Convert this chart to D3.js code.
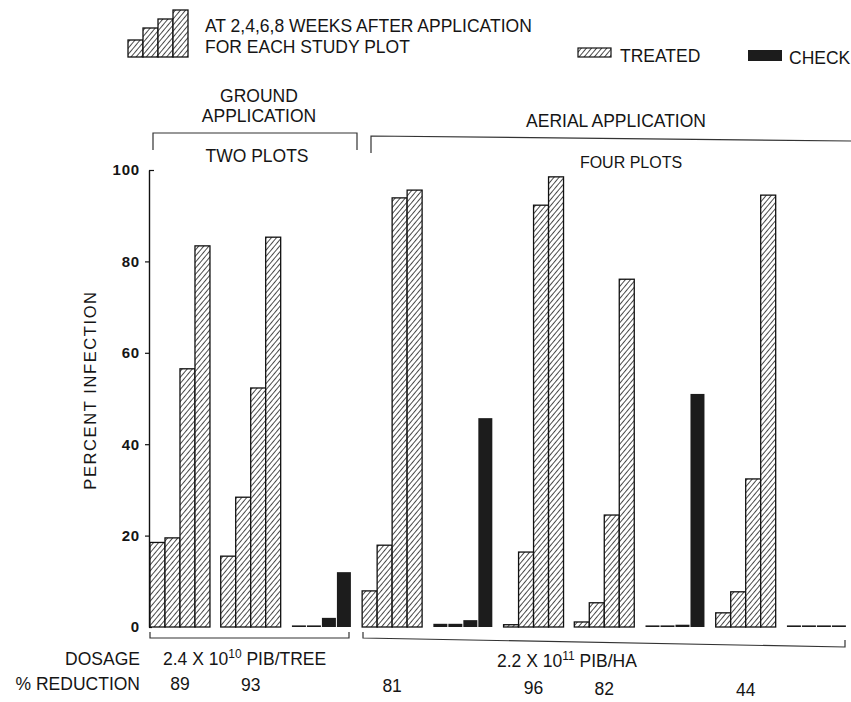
<!DOCTYPE html>
<html><head><meta charset="utf-8">
<script src="https://cdn.jsdelivr.net/npm/d3@7"></script>
<style>
body{margin:0;background:#fff;}
svg text{font-family:"Liberation Sans",Arial,sans-serif;fill:#151515;}
</style></head>
<body><svg id="c" width="851" height="702"></svg>
<script>
// ---- data ----
const groups = ["G-plot1","G-plot2","G-check","A-plot1","A-check1","A-plot2","A-plot3","A-check2","A-plot4","A-check3"];
const groupType = ["treated","treated","check","treated","check","treated","treated","check","treated","check"];
const weeks = ["2","4","6","8"];
const values = [
  [18.5, 19.5, 56.5, 83.4],
  [15.5, 28.4, 52.3, 85.3],
  [0, 0, 2.0, 12.0],
  [7.9, 17.9, 93.9, 95.6],
  [0.7, 0.7, 1.5, 45.7],
  [0.5, 16.4, 92.3, 98.5],
  [1.1, 5.3, 24.5, 76.1],
  [0, 0, 0.5, 51.0],
  [3.1, 7.7, 32.4, 94.5],
  [0, 0, 0, 0]
];
const yTicks = [0, 20, 40, 60, 80, 100];
const reductionGroups = ["G-plot1","G-plot2","A-plot1","A-plot2","A-plot3","A-plot4"];
const reductionValues = ["89","93","81","96","82","44"];
const legendSteps = [17, 29, 38, 47]; // legend staircase heights

// ---- drawing ----
const svg = d3.select("#c");
const defs = svg.append("defs");
const pat = defs.append("pattern").attr("id","hatch").attr("patternUnits","userSpaceOnUse")
  .attr("width",3.9).attr("height",3.9).attr("patternTransform","rotate(40)");
pat.append("rect").attr("width",3.9).attr("height",3.9).attr("fill","#fff");
pat.append("line").attr("x1",0).attr("y1",0).attr("x2",0).attr("y2",3.9)
  .attr("stroke","#111").attr("stroke-width",1.5);

const y = d3.scaleLinear().domain([0,100]).range([627,170]);
const x = d3.scaleBand().domain(groups).range([150,846.4]).paddingInner(0.152).paddingOuter(0);
const xi = d3.scaleBand().domain(weeks).range([0, x.bandwidth()]);

// y axis
const axis = d3.axisLeft(y).tickValues(yTicks).tickSize(4).tickSizeOuter(0).tickPadding(5);
const ag = svg.append("g").attr("transform","translate(149,0)").call(axis);
ag.select(".domain").attr("stroke","#111").attr("stroke-width",1.4);
ag.selectAll(".tick line").attr("stroke","#111").attr("stroke-width",1.2);
ag.selectAll(".tick").filter(d=>d===100).select("line").attr("x2",5);
ag.selectAll(".tick").filter(d=>d===0).select("line").attr("x2",3);
ag.selectAll(".tick text").attr("font-size",15).attr("font-weight","bold")
  .attr("font-family","Liberation Sans, Arial, sans-serif").attr("fill","#151515").attr("letter-spacing","0.8");

svg.append("text").attr("transform","translate(96,390) rotate(-90)").attr("text-anchor","middle")
  .attr("font-size",16.5).attr("letter-spacing","1.6").text("PERCENT INFECTION");

// bars
const gs = svg.append("g").selectAll("g").data(groups).join("g")
  .attr("transform", d => `translate(${x(d)},0)`);
gs.each(function(g, gi){
  const sel = d3.select(this);
  const t = groupType[gi];
  values[gi].forEach((v, wi) => {
    const top = y(v), h = Math.max(y(0)-top, 1.6);
    if (t === "treated") {
      sel.append("rect").attr("x", xi(weeks[wi])).attr("y", y(0)-h)
        .attr("width", xi.bandwidth()).attr("height", h)
        .attr("fill","url(#hatch)").attr("stroke","#111").attr("stroke-width",1.3);
    } else {
      sel.append("rect").attr("x", xi(weeks[wi])+0.5).attr("y", y(0)-h)
        .attr("width", xi.bandwidth()-1).attr("height", h).attr("fill","#1c1c1c");
    }
  });
});

// legend staircase
const lx = d3.scaleBand().domain(weeks).range([128,188]);
const ly = d3.scaleLinear().domain([0,47]).range([57,10]);
weeks.forEach((w,i)=>{
  svg.append("rect").attr("x",lx(w)).attr("y",ly(legendSteps[i])).attr("width",lx.bandwidth())
    .attr("height",57-ly(legendSteps[i])).attr("fill","url(#hatch)").attr("stroke","#111").attr("stroke-width",1.3);
});
const FS = 17.5;
svg.append("text").attr("x",205).attr("y",32).attr("font-size",FS).text("AT 2,4,6,8 WEEKS AFTER APPLICATION");
svg.append("text").attr("x",205).attr("y",53).attr("font-size",FS).text("FOR EACH STUDY PLOT");

// legend treated / check
svg.append("rect").attr("x",578).attr("y",48).attr("width",33).attr("height",9)
  .attr("fill","url(#hatch)").attr("stroke","#111").attr("stroke-width",1.2);
svg.append("text").attr("x",620).attr("y",62).attr("font-size",FS).text("TREATED");
svg.append("rect").attr("x",748).attr("y",50).attr("width",34).attr("height",11).attr("fill","#1c1c1c");
svg.append("text").attr("x",789).attr("y",64).attr("font-size",FS).text("CHECK");

// top brackets & labels
const line = d3.line();
function path(pts){ return svg.append("path").attr("d", line(pts)).attr("fill","none").attr("stroke","#333").attr("stroke-width",1.2); }
svg.append("text").attr("x",259).attr("y",102).attr("text-anchor","middle").attr("font-size",FS).text("GROUND");
svg.append("text").attr("x",259).attr("y",122).attr("text-anchor","middle").attr("font-size",FS).text("APPLICATION");
path([[153,150],[153,133],[357,133],[357,150]]);
svg.append("text").attr("x",257).attr("y",162).attr("text-anchor","middle").attr("font-size",FS).text("TWO PLOTS");
svg.append("text").attr("x",616).attr("y",127).attr("text-anchor","middle").attr("font-size",FS).text("AERIAL APPLICATION");
path([[371,153],[371,136],[851,141]]);
svg.append("text").attr("x",631).attr("y",168).attr("text-anchor","middle").attr("font-size",16).text("FOUR PLOTS");

// bottom brackets
path([[150,632],[150,638],[349,638],[349,632]]);
path([[363,632],[363,638],[845,647],[845,640]]);

// dosage
svg.append("text").attr("x",140).attr("y",665).attr("text-anchor","end").attr("font-size",FS).text("DOSAGE");
const d1 = svg.append("text").attr("x",163).attr("y",665).attr("font-size",FS);
d1.append("tspan").text("2.4 X 10");
d1.append("tspan").attr("dy",-7).attr("font-size",12).text("10");
d1.append("tspan").attr("dy",7).text(" PIB/TREE");
const d2 = svg.append("text").attr("x",497).attr("y",667).attr("font-size",FS);
d2.append("tspan").text("2.2 X 10");
d2.append("tspan").attr("dy",-7).attr("font-size",12).text("11");
d2.append("tspan").attr("dy",7).text(" PIB/HA");

// % reduction
svg.append("text").attr("x",140).attr("y",690).attr("text-anchor","end").attr("font-size",FS).text("% REDUCTION");
svg.append("g").selectAll("text").data(reductionValues).join("text")
  .attr("x",(d,i)=>x(reductionGroups[i]) + x.bandwidth()/2)
  .attr("y",(d,i)=> 690 + i*1.2)
  .attr("text-anchor","middle").attr("font-size",FS).text(d=>d);
</script></body></html>
